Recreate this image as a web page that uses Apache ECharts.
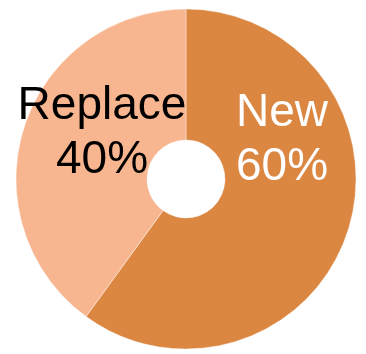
<!DOCTYPE html>
<html>
<head>
<meta charset="utf-8">
<script src="https://cdn.jsdelivr.net/npm/echarts@6/dist/echarts.min.js"></script>
<style>html,body{margin:0;padding:0;background:#fff}#c{width:366px;height:354px}</style>
</head>
<body>
<div id="c"></div>
<script>
var categories = ['New', 'Replace'];
var values = [60, 40];
var sliceColors = ['#DB8641', '#F8B690'];
var labelColors = ['#ffffff', '#000000'];
var labelPos = [[282, 140], [102, 133]];

var chart = echarts.init(document.getElementById('c'), null, {renderer: 'canvas'});
var total = values.reduce(function (a, b) { return a + b; }, 0);
chart.setOption({
  animation: false,
  series: [{
    type: 'pie',
    center: [186, 179],
    radius: [39, 170],
    startAngle: 90,
    clockwise: true,
    avoidLabelOverlap: false,
    emphasis: {disabled: true},
    itemStyle: {borderColor: 'rgba(255,255,255,0.5)', borderWidth: 0.8},
    label: {
      show: true,
      position: 'inside',
      fontFamily: 'Liberation Sans, Arial, sans-serif',
      fontSize: 46,
      lineHeight: 54,
      align: 'center',
      verticalAlign: 'middle',
      formatter: function (p) { return p.name + '\n' + Math.round(p.value / total * 100) + '%'; }
    },
    labelLine: {show: false},
    labelLayout: function (p) {
      return {x: labelPos[p.dataIndex][0], y: labelPos[p.dataIndex][1], align: 'center', verticalAlign: 'middle'};
    },
    data: categories.map(function (n, i) {
      return {name: n, value: values[i], itemStyle: {color: sliceColors[i]}, label: {color: labelColors[i]}};
    })
  }]
});
</script>
</body>
</html>
